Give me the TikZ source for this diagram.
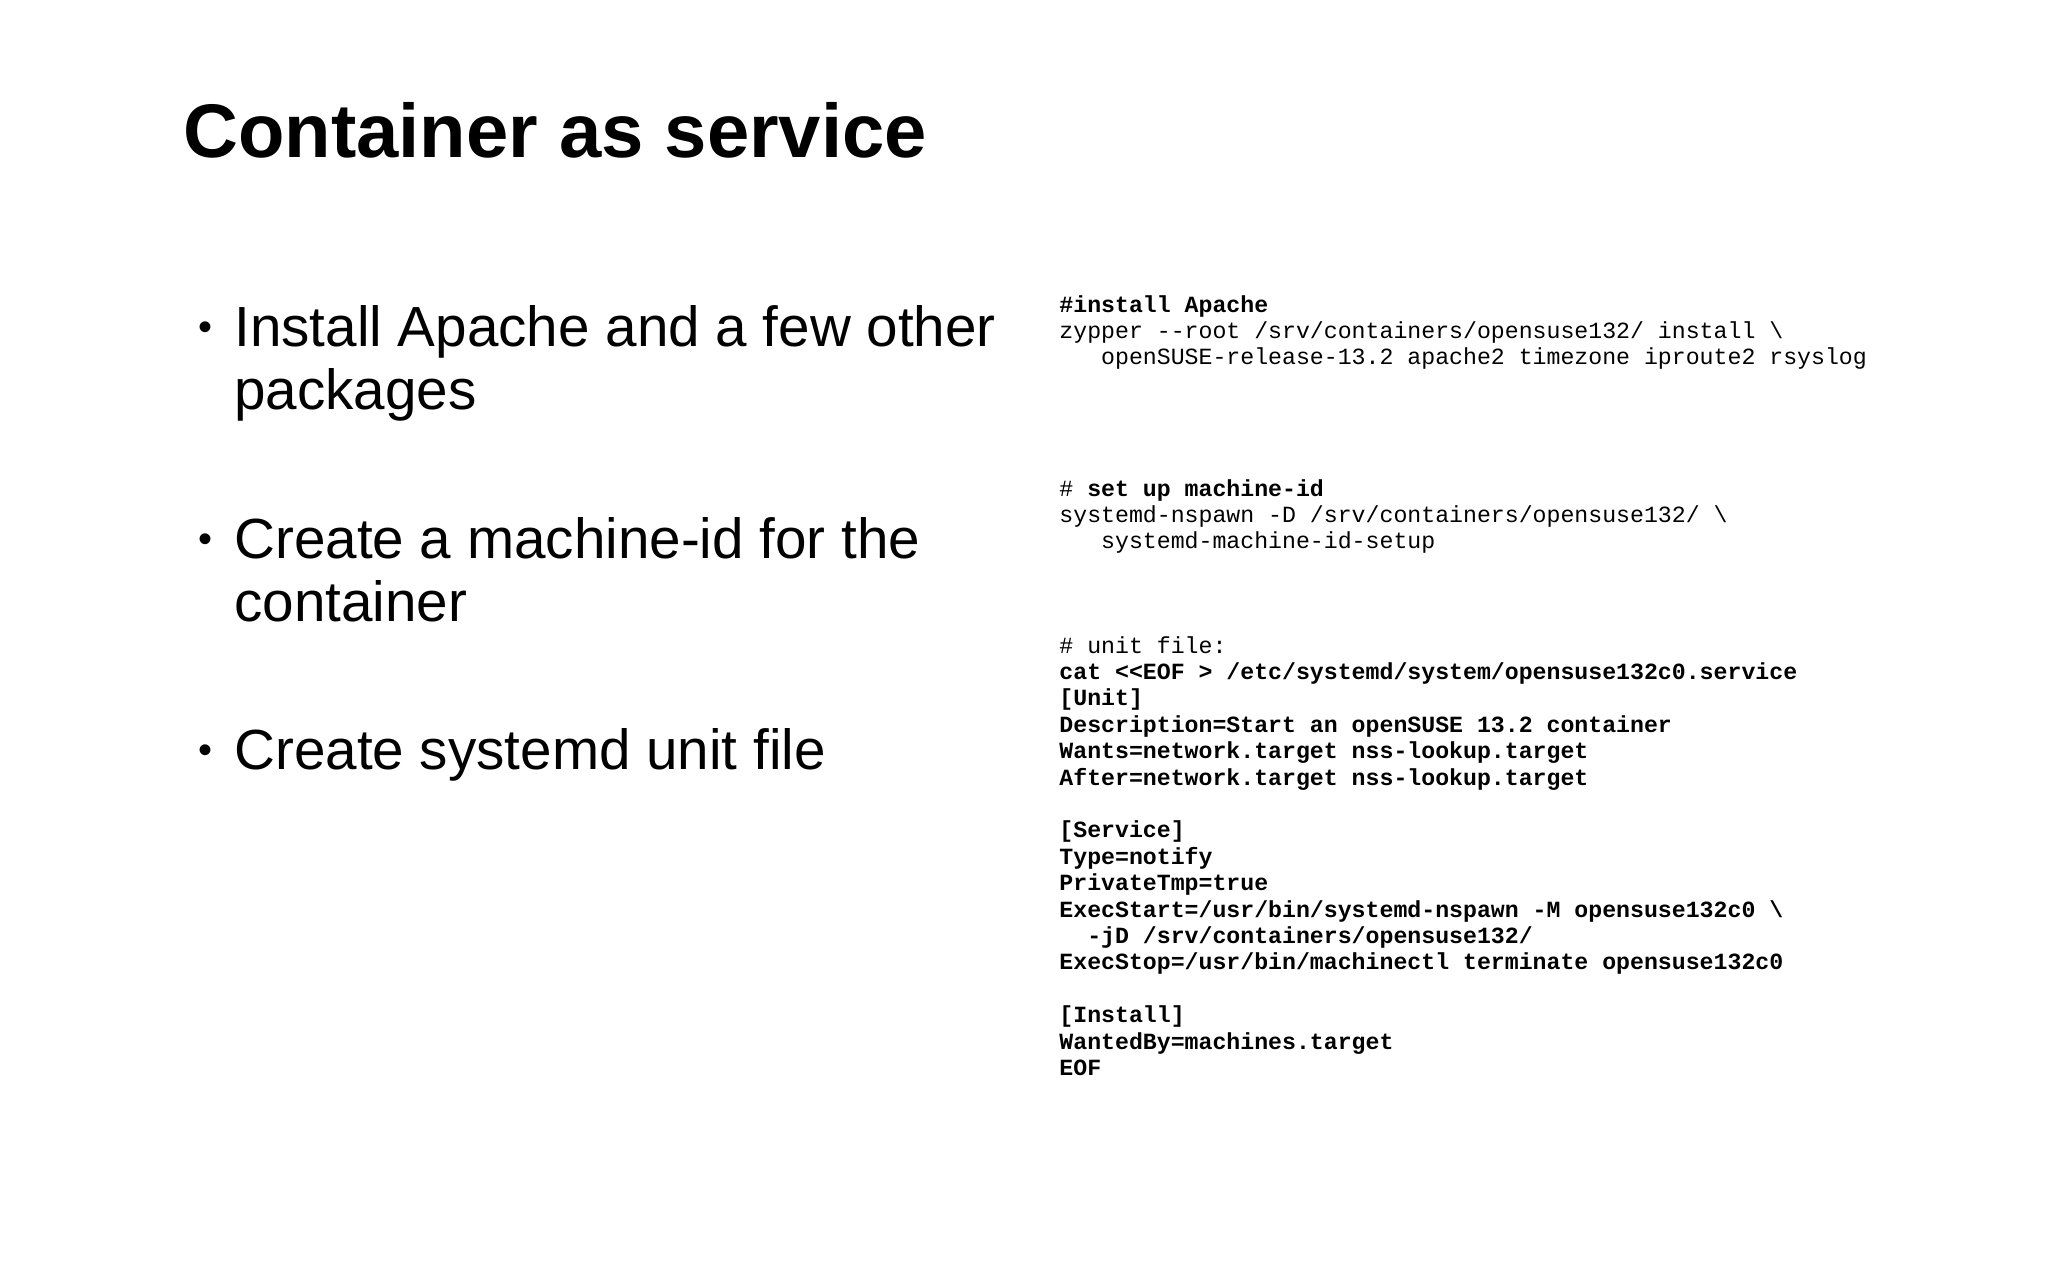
\documentclass[tikz,border=0pt]{standalone}
\usepackage{fontspec}
\setmainfont{Liberation Sans}
\newfontfamily\codefont{Liberation Mono}
\newcommand\cb[1]{\textbf{#1}}
\begin{document}
\begin{tikzpicture}[x=0.5pt,y=-0.5pt,
  title/.style={anchor=base west,inner sep=0,font=\fontsize{38}{44}\selectfont\bfseries},
  item/.style={anchor=base west,inner sep=0,font=\fontsize{28.3}{31.5}\selectfont},
  dot/.style={anchor=base west,inner sep=0,font=\fontsize{20}{24}\selectfont},
  code/.style={anchor=base west,inner sep=0,font=\codefont\fontsize{11.6}{13.2}\selectfont}]
\useasboundingbox (0,0) rectangle (2048,1280);
\node[title] (t) at (183,157) {Container as service};
\node[dot] (d1) at (198,340) {•};
\node[item] (i1) at (234,346) {\begin{tabular}[t]{@{}l@{}}Install Apache and a few other\\packages\end{tabular}};
\node[dot] (d2) at (198,552) {•};
\node[item] (i2) at (234,558) {\begin{tabular}[t]{@{}l@{}}Create a machine-id for the\\container\end{tabular}};
\node[dot] (d3) at (198,763) {•};
\node[item] (i3) at (234,769) {Create systemd unit file};
\node[code] (c1) at (1059,312) {\begin{tabular}[t]{@{}l@{}}\cb{\#install Apache}\\
zypper --root /srv/containers/opensuse132/ install \textbackslash\\
\ \ \ openSUSE-release-13.2 apache2 timezone iproute2 rsyslog\end{tabular}};
\node[code] (c2) at (1059,496) {\begin{tabular}[t]{@{}l@{}}\# \cb{set up machine-id}\\
systemd-nspawn -D /srv/containers/opensuse132/ \textbackslash\\
\ \ \ systemd-machine-id-setup\end{tabular}};
\node[code] (c3) at (1059,653) {\begin{tabular}[t]{@{}l@{}}\# unit file:\\
\cb{cat <<EOF > /etc/systemd/system/opensuse132c0.service}\\
\cb{[Unit]}\\
\cb{Description=Start an openSUSE 13.2 container}\\
\cb{Wants=network.target nss-lookup.target}\\
\cb{After=network.target nss-lookup.target}\\
\mbox{}\\
\cb{[Service]}\\
\cb{Type=notify}\\
\cb{PrivateTmp=true}\\
\cb{ExecStart=/usr/bin/systemd-nspawn -M opensuse132c0 \textbackslash}\\
\cb{\ \ -jD /srv/containers/opensuse132/}\\
\cb{ExecStop=/usr/bin/machinectl terminate opensuse132c0}\\
\mbox{}\\
\cb{[Install]}\\
\cb{WantedBy=machines.target}\\
\cb{EOF}\end{tabular}};
\end{tikzpicture}
\end{document}
